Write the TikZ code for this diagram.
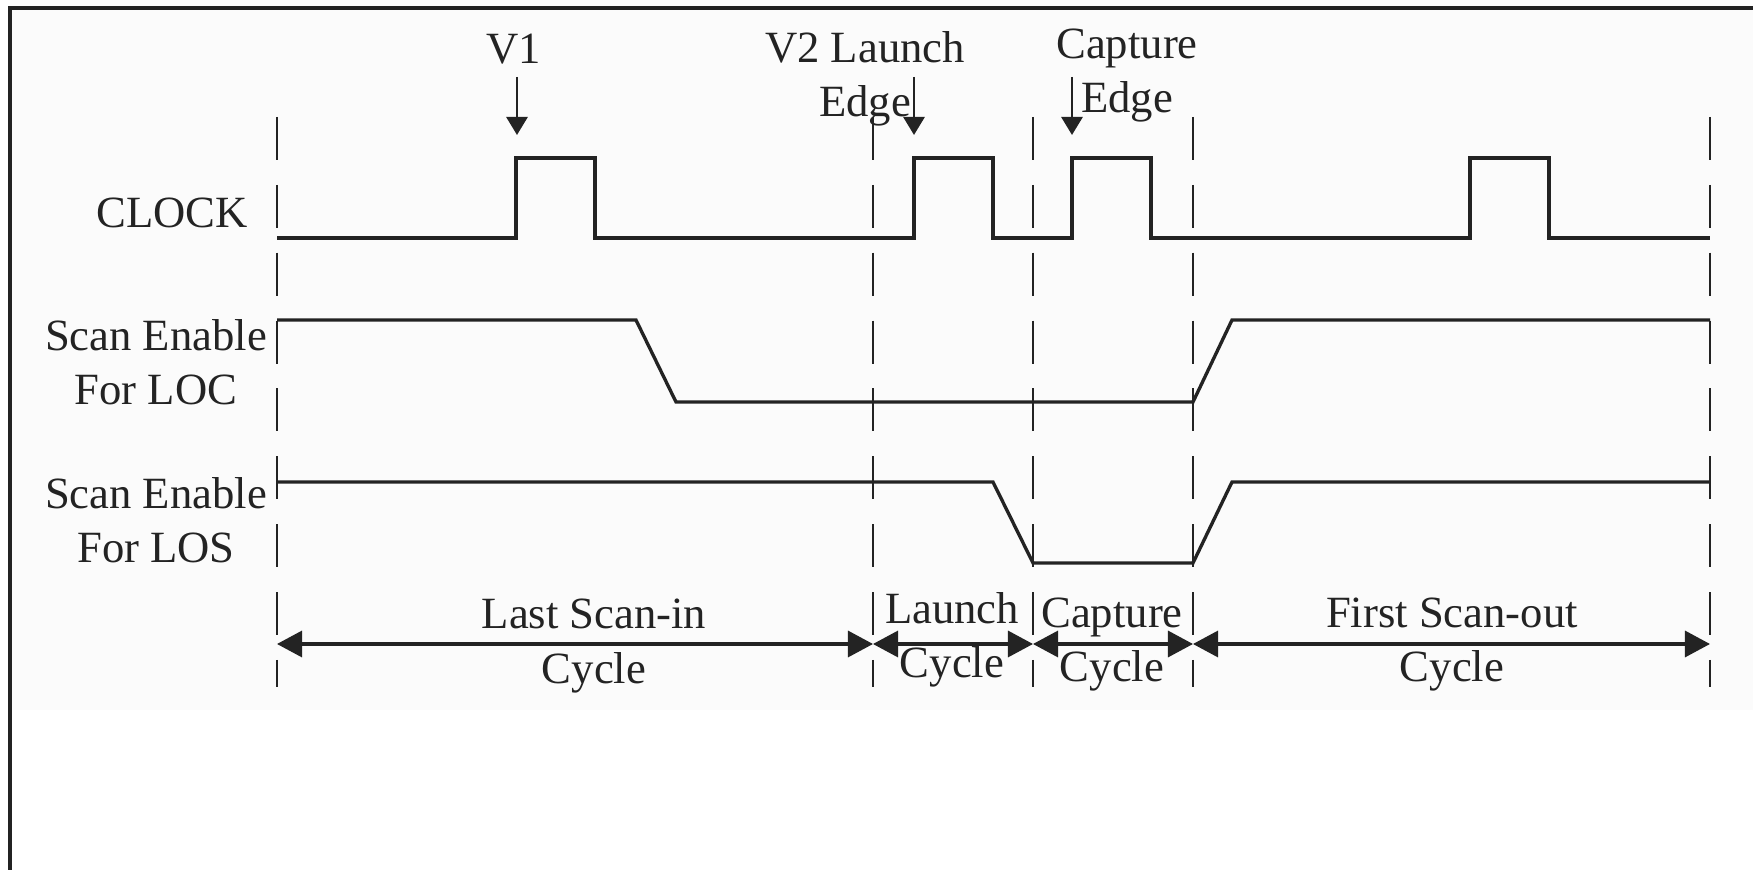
\documentclass[tikz,border=0pt]{standalone}
\usepackage{fontspec}
\setmainfont{Liberation Serif}
\usetikzlibrary{arrows.meta,positioning}
\definecolor{ink}{RGB}{35,35,35}
\definecolor{paper}{RGB}{251,251,251}
\tikzset{
  wave/.style={draw=ink, line width=0.95pt, line join=miter},
  gridline/.style={draw=ink, line width=0.6pt, dash pattern=on 12.2pt off 7.1pt},
  lbl/.style={text=ink, font=\fontsize{12.7}{15.6}\selectfont, inner sep=0pt, align=center},
  span/.style={{Triangle[length=2.5mm,width=2.6mm]}-{Triangle[length=2.5mm,width=2.6mm]}, draw=ink, line width=0.9pt},
  edgemark/.style={-{Triangle[length=1.8mm,width=2.1mm]}, draw=ink, line width=0.8pt}
}

\begin{document}
\begin{tikzpicture}[x=0.01cm, y=-0.01cm]
  \useasboundingbox (0,0) rectangle (1753,870);
  \fill[paper] (10,8) rectangle (1753,710);
  \draw[ink, line width=0.9pt] (10,870) -- (10,8) -- (1753,8);

  % cycle boundaries
  \foreach \x/\n in {277/a,873/b,1033/c,1193/d,1710/e} {
    \draw[gridline] (\x,117) -- (\x,687);
    \coordinate (t\n) at (\x,644);
  }

  % signals
  \draw[wave] (277,238) -- (516,238) -- (516,158) -- (595,158) -- (595,238)
    -- (914,238) -- (914,158) -- (993,158) -- (993,238)
    -- (1072,238) -- (1072,158) -- (1151,158) -- (1151,238)
    -- (1470,238) -- (1470,158) -- (1549,158) -- (1549,238) -- (1710,238);
  \draw[wave] (277,320) -- (636,320) -- (676,402) -- (1193,402) -- (1232,320) -- (1710,320);
  \draw[wave] (277,482) -- (993,482) -- (1033,563) -- (1193,563) -- (1232,482) -- (1710,482);

  \node[lbl, anchor=base] (clock) at (172,228) {CLOCK};
  \node[lbl, anchor=base] (seloc) at (156,405) {Scan Enable\\For LOC};
  \node[lbl, anchor=base] (selos) at (156,563) {Scan Enable\\For LOS};

  % clock edges
  \node[lbl, anchor=base] (v1) at (514,64) {V1};
  \node[lbl, anchor=base] (launch) at (865,117) {V2 Launch\\Edge};
  \node[lbl, anchor=base] (capture) at (1127,113) {Capture\\Edge};
  \foreach \x/\n in {517/va,914/vb,1072/vc} {
    \coordinate (\n s) at (\x,77);
    \coordinate (\n e) at (\x,135);
    \draw[edgemark] (\n s) -- (\n e);
  }

  % cycles
  \draw[span] (ta) -- (tb);
  \draw[span] (tb) -- (tc);
  \draw[span] (tc) -- (td);
  \draw[span] (td) -- (te);
  \node[lbl, anchor=base] (scanin) at (594,683) {Last Scan-in\\Cycle};
  \node[lbl, anchor=base] (launchcyc) at (952,678) {Launch\\Cycle};
  \node[lbl, anchor=base] (capcyc) at (1112,682) {Capture\\Cycle};
  \node[lbl, anchor=base] (scanout) at (1452,682) {First Scan-out\\Cycle};
\end{tikzpicture}
\end{document}
